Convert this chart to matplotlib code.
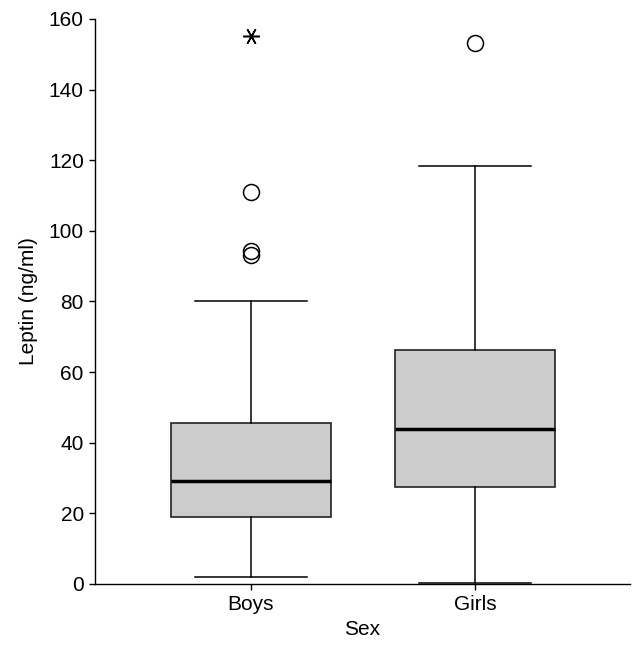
import matplotlib
matplotlib.use("Agg")
import matplotlib.pyplot as plt

plt.rcParams.update({"font.family": ["Liberation Sans", "DejaVu Sans"], "font.size": 15})

groups = ["Boys", "Girls"]
whislo = [2.0, 0.2]
q1 = [19.1, 27.6]
med = [29.2, 44.0]
q3 = [45.5, 66.3]
whishi = [80.2, 118.3]
outliers = [[93.1, 94.3, 111.0], [153.2]]
extremes = [[155.3], []]

stats = []
for i, g in enumerate(groups):
    stats.append({"label": g, "whislo": whislo[i], "q1": q1[i], "med": med[i],
                  "q3": q3[i], "whishi": whishi[i], "fliers": outliers[i]})

fig = plt.figure(figsize=(6.37, 6.45), dpi=100)
ax = fig.add_axes([0.149, 0.0946, 0.84, 0.876])
pos = [1, 2]
ax.bxp(stats, positions=pos, widths=0.714, capwidths=0.5, patch_artist=True,
       boxprops=dict(facecolor="#cccccc", edgecolor="#222222", linewidth=1.2),
       medianprops=dict(color="black", linewidth=2.5),
       whiskerprops=dict(color="black", linewidth=1.1),
       capprops=dict(color="black", linewidth=1.1),
       flierprops=dict(marker="o", markersize=11.5, markerfacecolor="none",
                       markeredgecolor="black", markeredgewidth=1.1))
for i in range(len(groups)):
    if extremes[i]:
        ax.plot([pos[i]] * len(extremes[i]), extremes[i], linestyle="none", marker=(6, 2, 90),
                markersize=12, color="black", markeredgewidth=1.1)

ax.set_xlim(0.304, 2.692)
ax.set_ylim(0, 160)
ax.set_yticks(range(0, 161, 20))
ax.spines["top"].set_visible(False)
ax.spines["right"].set_visible(False)
for s in ["left", "bottom"]:
    ax.spines[s].set_linewidth(1.0)
ax.tick_params(direction="out", length=4, width=1.0, pad=4)
ax.set_xlabel("Sex", labelpad=4)
ax.set_ylabel("Leptin (ng/ml)", labelpad=8)
fig.savefig("out.png", dpi=100, facecolor="white")
